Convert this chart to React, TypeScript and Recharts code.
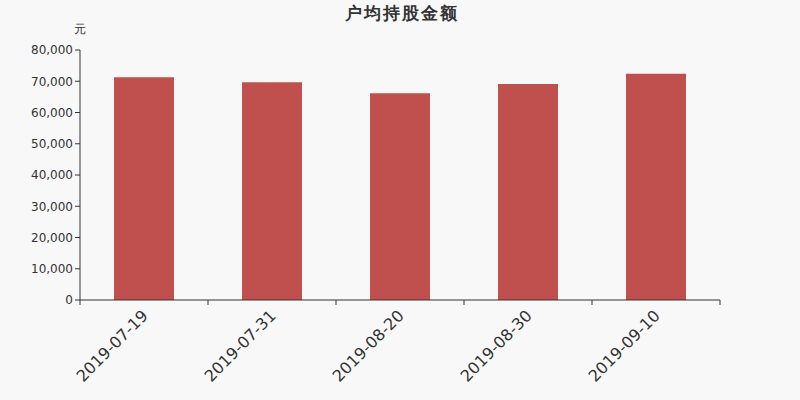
import React from "react";
import { BarChart, Bar, XAxis, YAxis } from "recharts";

const categories = ["2019-07-19", "2019-07-31", "2019-08-20", "2019-08-30", "2019-09-10"];
const amounts = [71300, 69700, 66200, 69100, 72400];
const yTicks = [0, 10000, 20000, 30000, 40000, 50000, 60000, 70000, 80000];

const data = categories.map((c, i) => ({ date: c, value: amounts[i] }));

const FONT = "'DejaVu Sans', sans-serif";
const BAND = 128;

const XTick = (props: any) => {
  const { x, y, payload, index } = props;
  const last = index === categories.length - 1;
  return (
    <g>
      <line x1={x - BAND / 2} y1={y - 8} x2={x - BAND / 2} y2={y - 3} stroke="#333" />
      {last && <line x1={x + BAND / 2} y1={y - 8} x2={x + BAND / 2} y2={y - 3} stroke="#333" />}
      <text
        x={x + 1}
        y={y + 5}
        transform={`rotate(-45, ${x + 1}, ${y + 5})`}
        textAnchor="end"
        fontSize={16}
        fill="#333"
        fontFamily={FONT}
        dominantBaseline="central"
      >
        {payload.value}
      </text>
    </g>
  );
};

export default function App() {
  return (
    <div style={{ position: "absolute", left: 0, top: 0, width: 800, height: 400, background: "#f8f8f8", fontFamily: FONT }}>
      <div style={{ position: "absolute", top: 2, left: 2, width: 800, textAlign: "center", fontSize: 17, fontWeight: "bold", color: "#333", letterSpacing: 2 }}>
        户均持股金额
      </div>
      <div style={{ position: "absolute", top: 21, left: 74, fontSize: 12, color: "#333" }}>元</div>
      <BarChart width={800} height={400} data={data} margin={{ top: 50, right: 80, bottom: 0, left: 0 }}>
        <XAxis
          dataKey="date"
          height={100}
          stroke="#333"
          tickLine={false}
          tick={<XTick />}
          interval={0}
        />
        <YAxis
          width={80}
          domain={[0, 80000]}
          ticks={yTicks}
          interval={0}
          stroke="#333"
          tickSize={5}
          tick={{ fontSize: 12, fill: "#333", fontFamily: FONT }}
          tickFormatter={(v: number) => v.toLocaleString("en-US")}
        />
        <Bar dataKey="value" fill="#c0504d" barSize={60} isAnimationActive={false} />
      </BarChart>
    </div>
  );
}
